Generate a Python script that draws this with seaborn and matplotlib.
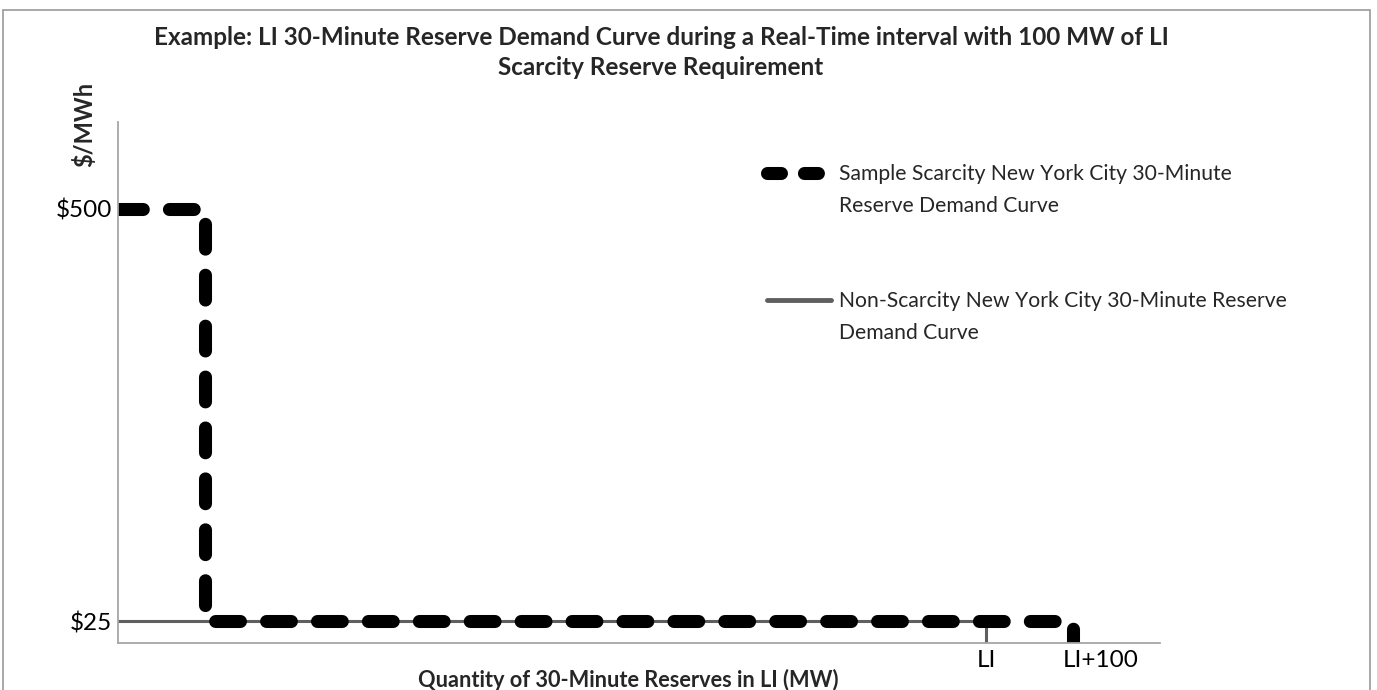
import matplotlib
matplotlib.use("Agg")
import matplotlib.pyplot as plt
import matplotlib.transforms as mtransforms
from matplotlib.lines import Line2D
from matplotlib.patches import Rectangle
import seaborn as sns
import pandas as pd

# data (MW, $/MWh)
scarcity_x = [0, 100, 100, 1100, 1100]
scarcity_y = [500, 500, 25, 25, 0]
normal_x = [0, 1000, 1000]
normal_y = [25, 25, 0]
y_ticks = [500, 25]
y_labels = ["$500", "$25"]
x_ticks = [1000, 1100]
x_labels = ["LI", "LI+100"]
legend_rows = ["Sample Scarcity New York City 30-Minute", "Reserve Demand Curve", " ", " ",
               "Non-Scarcity New York City 30-Minute Reserve", "Demand Curve"]

sns.set_theme(style="white")
plt.rcParams['font.family'] = ['Lato', 'DejaVu Sans']

fig = plt.figure(figsize=(13.77, 6.90), dpi=100)
ax = fig.add_axes([0.0857, 0.0681, 0.7567, 0.7551])

df1 = pd.DataFrame({"x": scarcity_x, "y": scarcity_y})
df2 = pd.DataFrame({"x": normal_x, "y": normal_y})
sns.lineplot(data=df2, x="x", y="y", sort=False, estimator=None, ax=ax,
             color="#5f5f5f", linewidth=2.2, solid_joinstyle="miter")
sns.lineplot(data=df1, x="x", y="y", sort=False, estimator=None, ax=ax,
             color="black", linewidth=9.4, linestyle=(0, (1.9, 2.0)),
             dash_capstyle="round")

ax.set_xlim(0, 1200)
ax.set_ylim(0, 600)
ax.set_xticks(x_ticks)
ax.set_xticklabels(x_labels, fontsize=17.5)
ax.set_yticks(y_ticks)
ax.set_yticklabels(y_labels, fontsize=17.5)
ax.tick_params(length=0, colors="black")
ax.tick_params(axis="x", pad=5)
ax.tick_params(axis="y", pad=4)
# the "LI+100" label sits to the right of its tick
lab = ax.get_xticklabels()[1]
lab.set_horizontalalignment("left")
lab.set_transform(lab.get_transform() + mtransforms.ScaledTranslation(-10 / 100, 0, fig.dpi_scale_trans))
ax.set_xlabel("")
ax.set_ylabel("")
for s in ["top", "right"]:
    ax.spines[s].set_visible(False)
for s in ["left", "bottom"]:
    ax.spines[s].set_color("#a6a6a6")
    ax.spines[s].set_linewidth(1.3)

fig.text(0.48, 0.924, "Example: LI 30-Minute Reserve Demand Curve during a Real-Time interval with 100 MW of LI\nScarcity Reserve Requirement",
         ha="center", va="center", fontsize=17.5, fontweight="bold", linespacing=1.35)
fig.text(0.061, 0.819, "$/MWh", rotation=90, ha="center", va="center",
         fontsize=17, fontweight="bold")
fig.text(0.456, 0.0145, "Quantity of 30-Minute Reserves in LI (MW)", ha="center",
         va="center", fontsize=15.7, fontweight="bold")

blank = Line2D([0], [0], color="none")
handles = [Line2D([0], [0], color="black", linewidth=9.4, linestyle=(0, (1.07, 1.76)),
                  dash_capstyle="round"),
           blank, blank, blank,
           Line2D([0], [0], color="#5f5f5f", linewidth=3.5),
           blank]
ax.legend(handles, legend_rows, loc="upper left", bbox_to_anchor=(767 / 1377, 1 - 164 / 690),
          bbox_transform=fig.transFigure, frameon=False, fontsize=15.2,
          handlelength=3.05, handletextpad=0.35, labelspacing=0.56,
          borderpad=0, borderaxespad=0)

fig.patches.append(Rectangle((0.002, -0.01), 0.993, 0.996, transform=fig.transFigure,
                             fill=False, edgecolor="#9a9a9a", linewidth=1.2))

fig.savefig("out.png", dpi=100)
